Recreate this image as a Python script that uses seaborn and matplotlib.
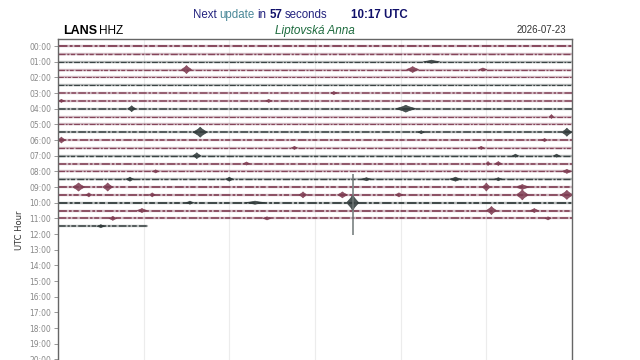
import numpy as np
import pandas as pd
import matplotlib
matplotlib.use("Agg")
import matplotlib.pyplot as plt
import seaborn as sns

# ---------------- data ----------------
station = "LANS"
channel = "HHZ"
location = "Liptovská Anna"
date_label = "2026-07-23"
update_seconds = "57"
update_time = "10:17 UTC"

hour_ticks = list(range(0, 24))
hour_labels = [f"{h:02d}:00" for h in hour_ticks]

# one trace every half hour, each 30 minutes long (last one still running)
trace_hours = [i * 0.5 for i in range(24)]
trace_minutes = [30] * 23 + [5.2]
trace_noise = [1.6, 1.2, 1.0, 1.1, 0.9, 1.0, 1.3, 1.3, 1.3, 1.0, 1.0, 1.3,
               1.4, 1.1, 1.2, 1.4, 1.1, 1.2, 1.5, 1.5, 1.6, 1.5, 1.4, 1.3]

# seismic events: trace index, centre minute, half-duration (min), amplitude (h)
ev_trace = [2, 3, 3, 3, 6, 7, 7, 8, 8, 9, 11, 11, 11, 12, 12, 13, 13,
            14, 14, 14, 15, 15, 15, 16, 16, 17, 17, 17, 17, 17,
            18, 18, 18, 18, 19, 19, 19, 19, 19, 19, 19,
            20, 20, 20, 20, 21, 21, 21, 22, 22, 22, 23]
ev_minute = [21.8, 7.5, 20.7, 24.8, 16.1, 0.2, 12.3, 4.3, 20.3, 28.8, 8.3, 21.2, 29.7, 0.2, 28.4, 13.8, 24.7,
             8.1, 26.7, 29.1, 11.0, 25.1, 25.7, 5.7, 29.7, 4.2, 10.0, 18.0, 23.2, 25.7,
             1.2, 2.9, 25.0, 27.1, 1.8, 5.5, 14.3, 16.6, 19.9, 27.1, 29.7,
             17.2, 17.2, 7.7, 11.5, 4.9, 25.3, 27.8, 3.2, 12.2, 28.6, 2.5]
ev_half = [0.47, 0.29, 0.35, 0.23, 0.18, 0.18, 0.18, 0.23, 0.58, 0.12, 0.41, 0.18, 0.29, 0.23, 0.18, 0.18, 0.18,
           0.23, 0.18, 0.18, 0.18, 0.12, 0.18, 0.18, 0.29, 0.23, 0.23, 0.29, 0.35, 0.23,
           0.35, 0.29, 0.23, 0.41, 0.18, 0.18, 0.23, 0.29, 0.23, 0.35, 0.35,
           0.35, 0.04, 0.23, 0.58, 0.29, 0.29, 0.23, 0.23, 0.23, 0.18, 0.23]
ev_amp = [0.10, 0.26, 0.19, 0.10, 0.10, 0.10, 0.10, 0.19, 0.22, 0.13, 0.32, 0.10, 0.26, 0.19, 0.10, 0.10, 0.10,
          0.19, 0.10, 0.10, 0.10, 0.13, 0.13, 0.10, 0.13, 0.13, 0.13, 0.10, 0.13, 0.10,
          0.26, 0.26, 0.26, 0.16, 0.13, 0.13, 0.19, 0.19, 0.13, 0.32, 0.29,
          0.51, 1.80, 0.10, 0.10, 0.13, 0.26, 0.13, 0.13, 0.10, 0.10, 0.10]

# ---------------- style ----------------
RED = "#7d3a50"
DARK = "#2e3838"
trace_colors = [DARK if i % 3 == 2 else RED for i in range(len(trace_hours))]

sns.set_theme(style="white")
plt.rcParams["font.family"] = ["DejaVu Sans"]

fig = plt.figure(figsize=(6.4, 3.6), dpi=100)
ax = fig.add_axes([58 / 640, -62 / 360, 514 / 640, 383 / 360])

rows = []
for i, (h, m, n) in enumerate(zip(trace_hours, trace_minutes, trace_noise)):
    rows.append({"trace": i, "minute": 0.0, "hour": h, "noise": n})
    rows.append({"trace": i, "minute": m, "hour": h, "noise": n})
df = pd.DataFrame(rows)

# pale underlying trace band
sns.lineplot(data=df, x="minute", y="hour", hue="trace", palette=trace_colors,
             estimator=None, sort=False, legend=False, ax=ax, linewidth=1.7, alpha=0.35)
# darker broken noise layer
for i, (h, m, n) in enumerate(zip(trace_hours, trace_minutes, trace_noise)):
    ax.plot([0, m], [h, h], color=trace_colors[i], lw=n * 0.85, alpha=0.9,
            dashes=(5, 1.2, 1.5, 1.0, 3, 1.5), solid_capstyle="butt")

for t, mm, hw, a in zip(ev_trace, ev_minute, ev_half, ev_amp):
    y0 = trace_hours[t]
    c = trace_colors[t]
    if a > 1.0:
        ax.vlines(mm, y0 - a, y0 + a * 1.15, color="#6f7777", lw=1.1)
        continue
    ax.fill([mm - hw, mm - hw * 0.3, mm, mm + hw * 0.3, mm + hw, mm + hw * 0.3, mm, mm - hw * 0.3],
            [y0, y0 - a * 0.6, y0 - a, y0 - a * 0.6, y0, y0 + a * 0.6, y0 + a, y0 + a * 0.6],
            color=c, alpha=0.85, lw=0.5, ec=c)

ax.set_xlim(0, 30)
ax.set_ylim(24, -0.45)
ax.set_xticks([0, 5, 10, 15, 20, 25, 30])
ax.set_xticklabels([])
ax.set_yticks(hour_ticks)
ax.set_yticklabels(hour_labels)
ax.grid(axis="x", color="#ececec", lw=0.8)
ax.grid(axis="y", visible=False)
ax.tick_params(axis="y", labelsize=5.5, colors="#888888", length=3, width=0.6,
               pad=2, left=True)
ax.tick_params(axis="x", length=0)
ax.set_xlabel("")
ax.set_ylabel("UTC Hour", fontsize=6, color="#333333", labelpad=4)
for s in ax.spines.values():
    s.set_color("#666666")
    s.set_linewidth(1.0)

# ---------------- header texts ----------------
hf = ["Liberation Sans", "DejaVu Sans"]
NAVY = "#23237e"
yt = 1 - 15 / 360
fs = 8.3
pieces = [("Next", NAVY, "normal"), ("update", "#4a8898", "normal"), ("in", NAVY, "normal"),
          (update_seconds, "#10106a", "bold"), ("seconds", NAVY, "normal")]
fig.canvas.draw()
renderer = fig.canvas.get_renderer()
x_px = 193.0
space_px = 2.8
for txt, col, wt in pieces:
    t = fig.text(x_px / 640, yt, txt, fontsize=fs, color=col, family=hf, va="center",
                 weight=wt)
    bb = t.get_window_extent(renderer=renderer)
    x_px += bb.width + space_px
fig.text(351 / 640, yt, update_time, fontsize=fs, color="#10106a", family=hf, va="center",
         weight="bold")

y2 = 1 - 31 / 360
fig.text(63 / 640, y2, station, fontsize=9, color="black", family=hf, va="center",
         weight="bold")
fig.text(99 / 640, y2, channel, fontsize=8.5, color="black", family=hf, va="center")
fig.text(315 / 640, y2, location, fontsize=8.5, color="#1d6b3e", family=hf, va="center",
         ha="center", style="italic")
fig.text(566 / 640, 1 - 30 / 360, date_label, fontsize=7, color="#333333", family=hf,
         va="center", ha="right")

fig.savefig("out.png", dpi=100)
